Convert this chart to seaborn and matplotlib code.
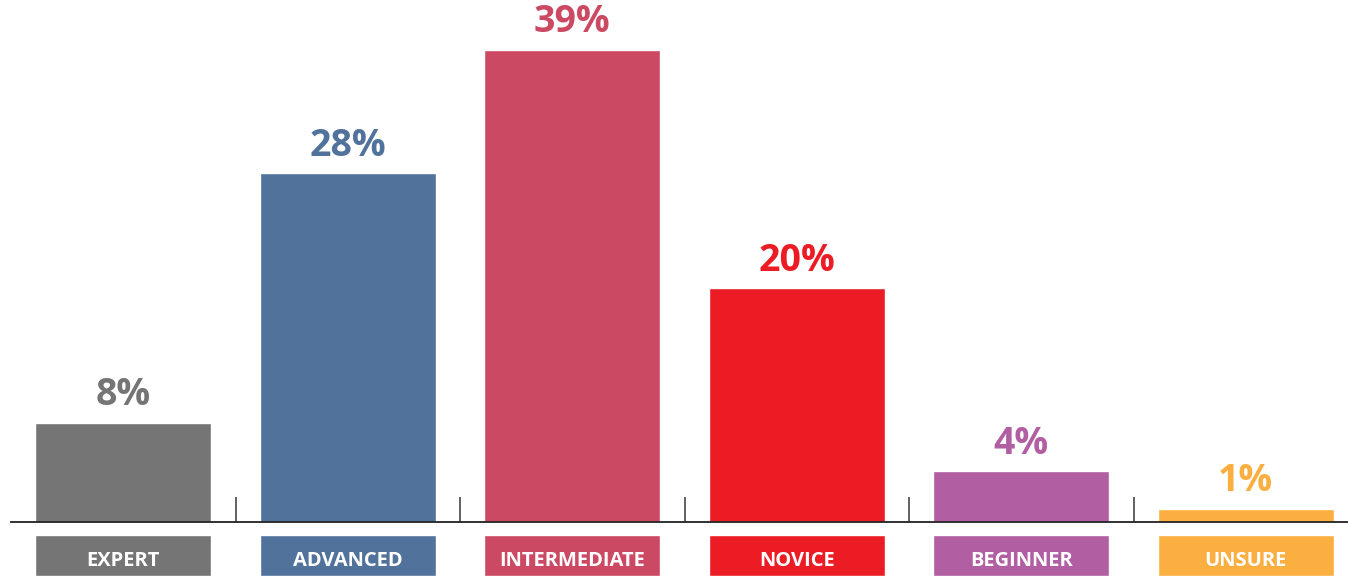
import matplotlib
matplotlib.use('Agg')
import matplotlib.pyplot as plt
import seaborn as sns
import pandas as pd

# data
categories = ['EXPERT', 'ADVANCED', 'INTERMEDIATE', 'NOVICE', 'BEGINNER', 'UNSURE']
shares = [8.2, 28.8, 39.0, 19.3, 4.2, 1.1]
share_labels = ['8%', '28%', '39%', '20%', '4%', '1%']
colors = ['#757575', '#50729B', '#CC4963', '#EC1C24', '#B15EA3', '#FBAF40']

sns.set_theme(style='white')
plt.rcParams['font.family'] = ['Open Sans', 'DejaVu Sans']

df = pd.DataFrame({'level': categories, 'share': shares})
pal = dict(zip(categories, colors))

W, H = 1348, 576
fig = plt.figure(figsize=(W / 100, H / 100), dpi=100)

left = 11 / W
base = (H - 522) / H
ax = fig.add_axes([left, base, 1 - left, 1 - base])
sns.barplot(data=df, x='level', y='share', hue='level', palette=pal,
            saturation=1, width=0.784, legend=False, ax=ax)
ax.set_xlim(-0.5, 5.455)
ax.set_ylim(0, 43.1)
for s in ['top', 'right', 'left']:
    ax.spines[s].set_visible(False)
ax.spines['bottom'].set_color('#222222')
ax.spines['bottom'].set_linewidth(1.3)
ax.set_yticks([])
ax.set_xticks([i + 0.5 for i in range(len(categories) - 1)])
ax.set_xticklabels([])
ax.tick_params(axis='x', direction='in', length=18, width=1.3, color='#555555', bottom=True)
ax.set_xlabel(''); ax.set_ylabel('')

for i, (v, lab) in enumerate(zip(shares, share_labels)):
    ax.annotate(lab, (i, v), xytext=(0, 6), textcoords='offset points',
                ha='center', va='bottom', fontsize=27, fontweight='bold',
                color=colors[i])

# coloured label boxes under the axis
box_h = (H - 535) / H
ax2 = fig.add_axes([left, 0, 1 - left, box_h])
sns.barplot(data=df.assign(box=1), x='level', y='box', hue='level', palette=pal,
            saturation=1, width=0.784, legend=False, ax=ax2)
ax2.set_xlim(-0.5, 5.455)
ax2.set_ylim(0, 1)
ax2.axis('off')
for i, cat in enumerate(categories):
    ax2.text(i, (H - 561) / (H - 535), cat, ha='center', va='center',
             fontsize=14.5, fontweight='bold', color='white')

plt.savefig('out.png', dpi=100)
